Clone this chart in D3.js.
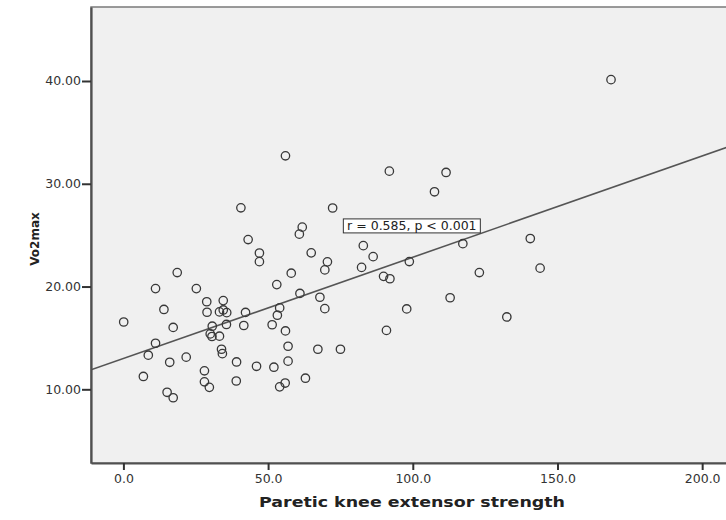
<!DOCTYPE html>
<html>
<head>
<meta charset="utf-8">
<script src="https://cdn.jsdelivr.net/npm/d3@7"></script>
<style>
  html, body { margin: 0; padding: 0; background: #fff; }
  svg { display: block; font-family: 'DejaVu Sans', sans-serif; }
</style>
</head>
<body>
<svg id="scatter" width="726" height="520"></svg>
<script>
// Paretic knee extensor strength (x) and Vo2max (y)
const strength = [
  0.1, 6.9, 8.6, 11.1, 11.1, 14.0, 15.1, 17.2, 17.2, 18.6,
  21.7, 16.0, 25.2, 28.0, 28.0, 29.7, 28.8, 28.9, 30.7, 30.0,
  30.6, 33.2, 33.2, 34.5, 35.7, 34.5, 35.6, 33.9, 34.2, 39.1,
  39.0, 41.6, 42.2, 40.6, 43.1, 47.0, 47.0, 46.0, 51.4, 52.0,
  53.0, 54.0, 53.2, 56.0, 56.9, 56.9, 54.0, 55.9, 56.0, 58.0,
  61.0, 60.8, 61.8, 62.9, 64.9, 67.2, 67.9, 69.6, 70.5, 69.6,
  72.3, 75.0, 82.3, 82.9, 86.3, 89.9, 92.1, 90.9, 91.9, 85.6,
  95.3, 97.9, 98.8, 107.5, 111.5, 112.9, 117.3, 123.0, 132.5, 140.6,
  144.0, 168.5
]
const vo2max = [
  16.55, 11.25, 13.32, 14.48, 19.80, 17.77, 9.71, 9.18, 16.02, 21.36,
  13.13, 12.63, 19.80, 11.80, 10.73, 10.19, 18.52, 17.50, 16.14, 15.39,
  15.14, 15.17, 17.53, 17.72, 17.46, 18.63, 16.31, 13.90, 13.47, 12.66,
  10.81, 16.21, 17.48, 27.66, 24.57, 23.26, 22.42, 12.24, 16.28, 12.15,
  20.19, 17.92, 17.21, 15.68, 14.19, 12.74, 10.24, 10.61, 32.72, 21.30,
  19.33, 25.10, 25.78, 11.08, 23.28, 13.90, 18.96, 17.85, 22.40, 21.62,
  27.64, 13.90, 21.86, 23.98, 22.91, 20.99, 20.76, 15.73, 31.23, 26.10,
  26.10, 17.82, 22.43, 29.22, 31.10, 18.91, 24.17, 21.36, 17.04, 24.67,
  21.79, 40.13
]
const xTicks = [0, 50, 100, 150, 200]
const yTicks = [10, 20, 30, 40]

// fit line as drawn in the reference
const fitIntercept = 13.0
const fitSlope = 0.0985
const fitLabel = 'r = 0.585, p < 0.001'

const svg = d3.select('#scatter')
const plotLeft = 91
const plotRight = 734
const plotTop = 7
const plotBottom = 463

const x = d3.scaleLinear().domain([-11.2, 211]).range([plotLeft, plotRight])
const y = d3.scaleLinear().domain([2.83, 47.2]).range([plotBottom, plotTop])

svg.append('defs').append('clipPath').attr('id', 'plotClip')
  .append('rect')
  .attr('x', plotLeft).attr('y', plotTop)
  .attr('width', plotRight - plotLeft).attr('height', plotBottom - plotTop)

// plot background + frame
svg.append('rect')
  .attr('x', plotLeft).attr('y', plotTop)
  .attr('width', plotRight - plotLeft).attr('height', plotBottom - plotTop)
  .attr('fill', '#f0f0f0')
  .attr('stroke', '#7a7a7a')
  .attr('stroke-width', 1.5)

const plot = svg.append('g').attr('clip-path', 'url(#plotClip)')

const xs = x.domain()
plot.append('line')
  .attr('x1', x(xs[0])).attr('y1', y(fitIntercept + fitSlope * xs[0]))
  .attr('x2', x(xs[1])).attr('y2', y(fitIntercept + fitSlope * xs[1]))
  .attr('stroke', '#555')
  .attr('stroke-width', 1.6)

plot.selectAll('circle')
  .data(strength.map((d, i) => ({ s: d, v: vo2max[i] })))
  .enter().append('circle')
  .attr('cx', d => x(d.s))
  .attr('cy', d => y(d.v))
  .attr('r', 4.2)
  .attr('fill', 'none')
  .attr('stroke', '#383838')
  .attr('stroke-width', 1.3)

// annotation box
const note = svg.append('g')
  .attr('transform', `translate(${x(76.0)},${y(25.9)})`)
note.append('rect')
  .attr('x', 0).attr('y', -7)
  .attr('width', 137).attr('height', 14)
  .attr('fill', '#fff')
  .attr('stroke', '#333')
  .attr('stroke-width', 1)
note.append('text')
  .attr('x', 68.5).attr('dy', '0.36em')
  .attr('text-anchor', 'middle')
  .style('font-size', '12.5px')
  .attr('fill', '#222')
  .text(fitLabel)

// axes
const yAxis = svg.append('g')
  .attr('transform', `translate(${plotLeft},0)`)
  .call(d3.axisLeft(y).tickValues(yTicks).tickFormat(d3.format('.2f'))
    .tickSize(9).tickSizeOuter(0).tickPadding(1))
const xAxis = svg.append('g')
  .attr('transform', `translate(0,${plotBottom})`)
  .call(d3.axisBottom(x).tickValues(xTicks).tickFormat(d3.format('.1f'))
    .tickSize(7).tickSizeOuter(0).tickPadding(4))

;[yAxis, xAxis].forEach(ax => {
  ax.select('.domain').attr('stroke', '#505050').attr('stroke-width', 2.2)
  ax.selectAll('.tick line').attr('stroke', '#333').attr('stroke-width', 2)
  ax.selectAll('.tick text')
    .attr('fill', '#333')
    .style('font-size', '12.5px')
    .style('font-family', "'DejaVu Sans', sans-serif")
})

// axis titles
svg.append('text')
  .attr('x', 412).attr('y', 507)
  .attr('text-anchor', 'middle')
  .attr('textLength', 306)
  .attr('lengthAdjust', 'spacingAndGlyphs')
  .style('font-size', '13.5px')
  .style('font-weight', 'bold')
  .attr('fill', '#222')
  .text('Paretic knee extensor strength')

svg.append('text')
  .attr('transform', 'translate(39,239) rotate(-90)')
  .attr('text-anchor', 'middle')
  .style('font-size', '12px')
  .style('font-weight', 'bold')
  .attr('fill', '#222')
  .text('Vo2max')
</script>
</body>
</html>
